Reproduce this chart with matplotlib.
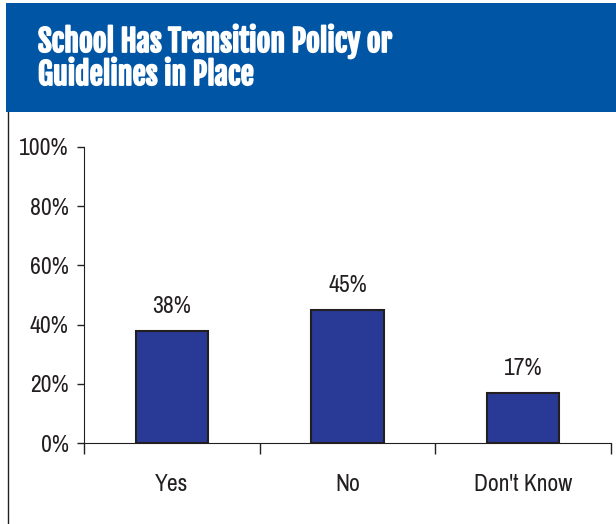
import matplotlib.pyplot as plt
import matplotlib.patheffects as pe
from matplotlib.patches import Rectangle
from matplotlib.lines import Line2D

categories = ['Yes', 'No', "Don't Know"]
values = [38, 45, 17]
yticks = [0, 20, 40, 60, 80, 100]

W, H = 616, 524
LABEL_FONT = ['Archivo Narrow', 'DejaVu Sans']
TITLE_FONT = ['Fjalla One', 'DejaVu Sans']
INK = '#231f20'

fig = plt.figure(figsize=(W / 100, H / 100), dpi=100)
fig.patch.set_facecolor('white')

# blue header band
fig.add_artist(Rectangle((6 / W, 1 - 112 / H), 1 - 6 / W, 109 / H,
                         transform=fig.transFigure, facecolor='#0055a5', edgecolor='none'))
for line, yc in [('School Has Transition Policy or', 41), ('Guidelines in Place', 75)]:
    fig.text(38 / W, 1 - yc / H, line, color='white', fontsize=21.5,
             family=TITLE_FONT, va='center', ha='left',
             path_effects=[pe.withStroke(linewidth=1.3, foreground='white')])
# left border line
fig.add_artist(Line2D([8 / W, 8 / W], [0, 1 - 112 / H], transform=fig.transFigure,
                      color=INK, lw=1))

ax = fig.add_axes([84 / W, 81 / H, 527 / W, 296 / H])
x = range(len(categories))
ax.bar(x, values, width=0.41, color='#293996', edgecolor=INK, linewidth=1.5, zorder=3)
for i, v in enumerate(values):
    ax.text(i, v + 4.5, f'{v}%', ha='center', va='bottom', fontsize=17,
            family=LABEL_FONT, color=INK)

ax.set_xlim(-0.5, 2.5)
ax.set_ylim(0, 100)
ax.set_yticks(yticks)
ax.set_yticklabels([f'{t}%' for t in yticks], fontsize=17, family=LABEL_FONT, color=INK)
ax.set_xticks(list(x))
ax.set_xticklabels(categories, fontsize=17, family=LABEL_FONT, color=INK)
ax.tick_params(axis='x', which='major', length=0, pad=22)
ax.set_xticks([-0.5, 0.5, 1.5, 2.5], minor=True)
ax.tick_params(axis='x', which='minor', length=8, width=1, color=INK)
ax.tick_params(axis='y', length=5, width=1, color=INK, pad=6)
ax.spines['top'].set_visible(False)
ax.spines['right'].set_visible(False)
ax.spines['left'].set_color(INK)
ax.spines['bottom'].set_color(INK)

fig.savefig('out.png', dpi=100)
